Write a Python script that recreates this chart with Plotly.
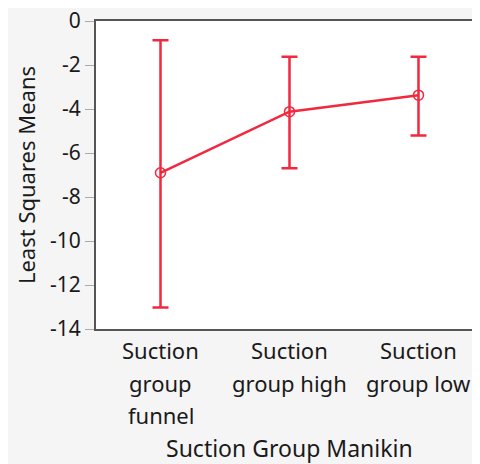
import plotly.graph_objects as go

categories = ["Suction<br>group<br>funnel", "Suction<br>group high", "Suction<br>group low"]
means = [-6.9, -4.12, -3.37]
upper = [-0.87, -1.62, -1.62]
lower = [-13.02, -6.69, -5.2]
y_ticks = [0, -2, -4, -6, -8, -10, -12, -14]
x_title = "Suction Group Manikin"
y_title = "Least Squares Means"

red = "#f2283f"
err_plus = [u - m for u, m in zip(upper, means)]
err_minus = [m - l for m, l in zip(means, lower)]

fig = go.Figure()
fig.add_trace(go.Scatter(
    x=categories, y=means, mode="lines+markers",
    line=dict(color=red, width=2.5),
    marker=dict(symbol="circle-open", size=10, color=red, line=dict(width=1.5)),
    error_y=dict(type="data", symmetric=False, array=err_plus, arrayminus=err_minus,
                 color=red, thickness=2.5, width=8),
    showlegend=False,
))

font = "Noto Sans"
fs = 22
fig.update_layout(
    width=480, height=464,
    margin=dict(l=88, r=5, t=13, b=143, autoexpand=False),
    paper_bgcolor="#f5f5f5",
    plot_bgcolor="white",
    font=dict(family=font, size=fs, color="#1a1a1a"),
    xaxis=dict(
        type="category", range=[-0.5, 2.5], automargin=False,
        showline=True, linecolor="#555", linewidth=2, mirror=True,
        ticks="", showgrid=False, showticklabels=False,
    ),
    yaxis=dict(
        range=[-14, 0], tickvals=y_ticks, ticktext=[str(v) for v in y_ticks],
        showline=True, linecolor="#555", linewidth=2, automargin=False,
        ticks="outside", ticklen=9, tickcolor="#aaa", tickwidth=1,
        showgrid=False, zeroline=False, ticklabeloverflow="allow",
        title=dict(text=y_title, font=dict(size=fs), standoff=8),
        tickfont=dict(size=21),
    ),
)
line_shifts = [-21, -54, -86]
for cat in categories:
    for i, part in enumerate(cat.split("<br>")):
        fig.add_annotation(x=cat, xref="x", y=0, yref="paper", text=part,
                           showarrow=False, yanchor="middle", yshift=line_shifts[i],
                           font=dict(size=22))
fig.add_annotation(x=0.5, xref="paper", y=0, yref="paper", text=x_title,
                   showarrow=False, yanchor="middle", yshift=-119, font=dict(size=23))
fig.write_html("out.html",
               post_script="document.documentElement.style.overflow='hidden';"
                           "document.body.style.overflow='hidden';")
